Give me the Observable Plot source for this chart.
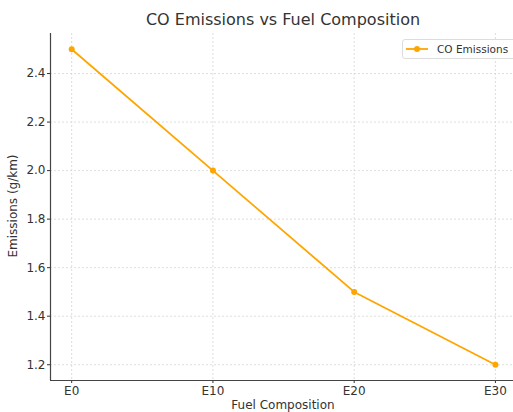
<!DOCTYPE html>
<html><head><meta charset="utf-8">
<script src="https://cdn.jsdelivr.net/npm/d3@7"></script>
<script src="https://cdn.jsdelivr.net/npm/@observablehq/plot@0.6"></script>
<style>
body{margin:0;background:#fff;font-family:"DejaVu Sans",sans-serif;}
#wrap{position:relative;width:513px;height:412px;overflow:hidden;background:#fff;}
.lbl{position:absolute;color:#333;white-space:nowrap;}
#title{left:50px;width:466px;top:10px;text-align:center;font-size:16px;line-height:20px;}
#xlabel{left:50px;width:466px;top:398px;text-align:center;font-size:12px;line-height:14px;}
#ylabel{left:13px;top:206px;font-size:12px;line-height:14px;transform:translate(-50%,-50%) rotate(-90deg);}
#legend{position:absolute;left:402px;top:39px;width:120px;height:18px;border:1px solid #ddd;border-radius:3px;background:rgba(255,255,255,0.85);}
</style></head><body><div id="wrap"></div>
<script>
const categories = ["E0", "E10", "E20", "E30"];
const coEmissions = [2.5, 2.0, 1.5, 1.2];
const yTicks = [1.2, 1.4, 1.6, 1.8, 2.0, 2.2, 2.4];
const titleText = "CO Emissions vs Fuel Composition";
const xLabelText = "Fuel Composition";
const yLabelText = "Emissions (g/km)";
const seriesName = "CO Emissions";

const color = "#FFA500";
const data = categories.map((c, i) => ({i, c, v: coEmissions[i]}));
const idx = categories.map((c, i) => i);
const yMin = 1.135, yMax = 2.565, xMin = -0.15, xMax = 3.128;

const chart = Plot.plot({
  width: 513, height: 412,
  marginLeft: 50, marginRight: 0, marginTop: 33, marginBottom: 32,
  style: {fontFamily: "DejaVu Sans, sans-serif", fontSize: "12px", color: "#333", background: "#fff"},
  x: {type: "linear", domain: [xMin, xMax]},
  y: {domain: [yMin, yMax]},
  marks: [
    Plot.gridY(yTicks, {stroke: "#d6d6d6", strokeOpacity: 1, strokeWidth: 0.8, strokeDasharray: "2,2"}),
    Plot.gridX(idx, {stroke: "#d6d6d6", strokeOpacity: 1, strokeWidth: 0.8, strokeDasharray: "2,2"}),
    Plot.axisY(yTicks, {tickSize: 3, tickPadding: 2, tickFormat: d3.format(".1f"), label: null, stroke: "#333", fontSize: 12}),
    Plot.axisX(idx, {tickSize: 3, tickPadding: 3, tickFormat: i => categories[i], label: null, stroke: "#333", fontSize: 12}),
    Plot.ruleX([xMin], {stroke: "#444", strokeWidth: 1.2}),
    Plot.ruleY([yMin], {stroke: "#444", strokeWidth: 1.2}),
    Plot.line(data, {x: "i", y: "v", stroke: color, strokeWidth: 1.8}),
    Plot.dot(data, {x: "i", y: "v", fill: color, r: 3})
  ]
});
const wrap = document.getElementById("wrap");
wrap.appendChild(chart);

function addLabel(id, text) {
  const d = document.createElement("div");
  d.id = id; d.className = "lbl"; d.textContent = text;
  wrap.appendChild(d);
}
addLabel("title", titleText);
addLabel("xlabel", xLabelText);
addLabel("ylabel", yLabelText);

const leg = document.createElement("div");
leg.id = "legend";
leg.innerHTML = `<svg width="120" height="18" style="display:block">
<line x1="3" x2="25" y1="9" y2="9" stroke="${color}" stroke-width="1.8"/>
<circle cx="14" cy="9" r="3" fill="${color}"/>
<text x="34" y="13" font-size="10.5" fill="#333" font-family="DejaVu Sans, sans-serif">${seriesName}</text>
</svg>`;
wrap.appendChild(leg);
</script>
</body></html>
